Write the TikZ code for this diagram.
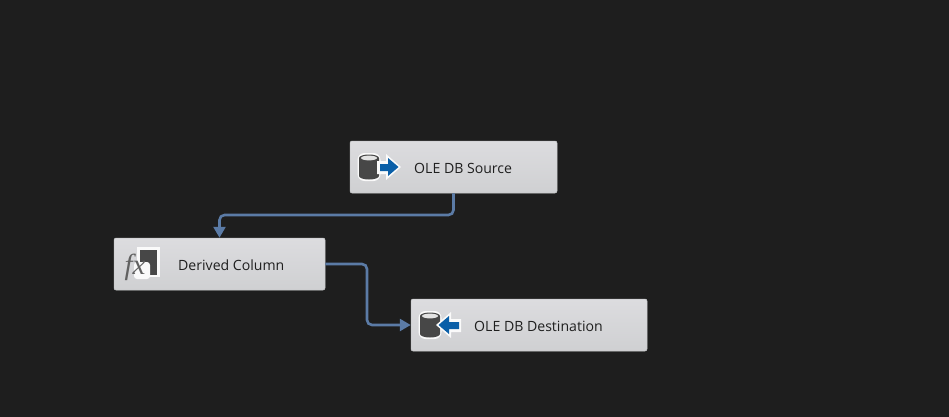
\documentclass[tikz,border=0pt]{standalone}
\usepackage{fontspec}
\setmainfont{Open Sans}
\newfontfamily\fxfont{Liberation Serif}
\usetikzlibrary{arrows.meta}
\definecolor{canvasbg}{HTML}{1E1E1E}
\definecolor{flowblue}{HTML}{5B7BA6}
\definecolor{iconblue}{HTML}{0A5FA8}
\definecolor{icongray}{HTML}{474747}
\definecolor{tasktop}{HTML}{DCDCDF}
\definecolor{taskbottom}{HTML}{CFD0D2}
\tikzset{
  task/.style={draw=taskbottom!90!gray, line width=0.5pt, rounded corners=2pt, top color=tasktop, bottom color=taskbottom, minimum height=52pt, inner sep=0pt},
  tasklabel/.style={anchor=west, inner sep=0pt, text=black!88, font=\fontsize{14.1}{16}\selectfont},
  flow/.style={draw=flowblue, line width=2.6pt, rounded corners=5pt, -{Triangle[length=11pt,width=12pt]}}
}
\newcommand{\dbdrum}[2]{% cylinder with a white halo
  \fill[white!85!tasktop, rounded corners=7pt] (#1-11.5,#2-14) rectangle (#1+11.5,#2+14);
  \fill[icongray] (#1-10,#2-9) -- (#1-10,#2+9) arc[start angle=180,end angle=0,x radius=10,y radius=3.5] -- (#1+10,#2-9) arc[start angle=0,end angle=-180,x radius=10,y radius=3.5];
  \fill[white!78!gray] (#1,#2-9) ellipse[x radius=8,y radius=2.4];
}
\begin{document}
\begin{tikzpicture}[x=1pt,y=-1pt]
  \useasboundingbox (0,0) rectangle (949,417);
  \fill[canvasbg] (0,0) rectangle (949,417);
  % tasks
  \node[task, minimum width=207pt] (src) at (453.5,167) {};
  \node[task, minimum width=211pt] (dc) at (219.5,264) {};
  \node[task, minimum width=236pt] (dst) at (529,325) {};
  \node[tasklabel] (srclabel) at (414,168) {OLE DB Source};
  \node[tasklabel] (dclabel) at (178,265) {Derived Column};
  \node[tasklabel] (dstlabel) at (474,326) {OLE DB Destination};
  % connectors
  \coordinate (srcbend) at (340,215);
  \coordinate (dcbend) at (367,295);
  \draw[flow] (src.south) |- (srcbend) -| (dc.north);
  \draw[flow] (dc.east) -| (dcbend) |- (dst.west);
  % source icon
  \dbdrum{369}{167}
  \fill[white!85!tasktop] (377,161) -- (386,161) -- (386,154) -- (401,167) -- (386,180) -- (386,174) -- (377,174) -- cycle;
  \fill[iconblue] (380,164) -- (388,164) -- (388,158) -- (398.5,167) -- (388,176) -- (388,171) -- (380,171) -- cycle;
  % destination icon
  \dbdrum{430}{325}
  \fill[white!85!tasktop] (461,319) -- (451,319) -- (451,312) -- (436,325) -- (451,338) -- (451,332) -- (461,332) -- cycle;
  \fill[iconblue] (459,322) -- (449,322) -- (449,316) -- (438.5,325) -- (449,334) -- (449,329) -- (459,329) -- cycle;
  % derived column icon
  \fill[white!85!tasktop] (137,247) rectangle (159.5,277);
  \fill[icongray] (140,250) rectangle (157,275);
  \fill[white!85!tasktop, rounded corners=3pt] (134,262) rectangle (150,279);
  \node[inner sep=0pt, text=black!62, font=\fontsize{29}{29}\fxfont\itshape] (fxlabel) at (135,267) {fx};
\end{tikzpicture}
\end{document}
